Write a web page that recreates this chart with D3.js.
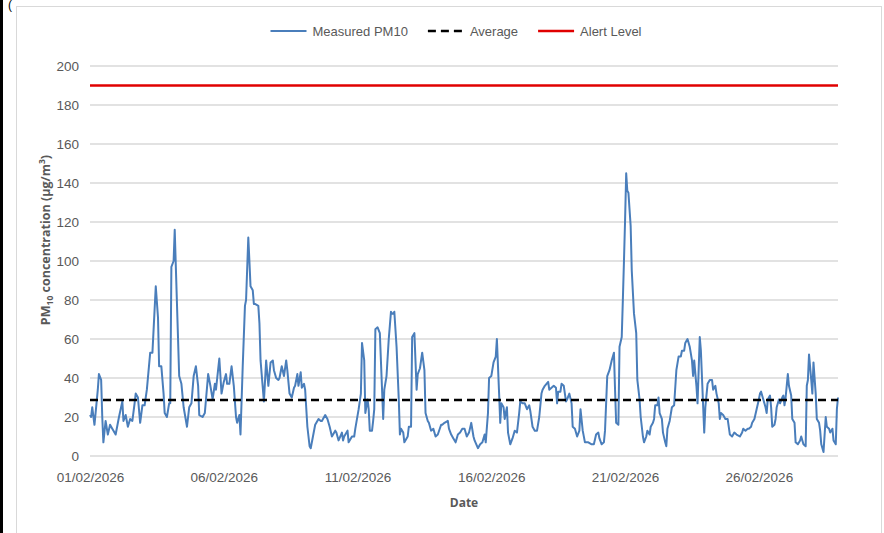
<!DOCTYPE html>
<html>
<head>
<meta charset="utf-8">
<script src="https://cdn.jsdelivr.net/npm/d3@7"></script>
<style>
  body { margin: 0; background: #fff; }
  svg { display: block; font-family: "Liberation Sans", Arial, sans-serif; }
  .tick-label { fill: #595959; font-size: 13.5px; }
  .legend-label { fill: #595959; font-size: 13px; }
  .axis-title { fill: #595959; font-weight: bold; font-family: "Open Sans", sans-serif; }
</style>
</head>
<body>
<div id="chart"></div>
<script>
// hours after 01/02/2026 00:00 and the PM10 reading at that hour (µg/m³)
const hoursFromStart = [
  0,1,2,4,7,8,10,11,12,14,16,18,20,23,26,29,30,32,34,36,38,40,41,43,45,47,49,51,54,56,
  59,61,62,64,66,67,69,71,72,73,75,76,77,80,82,84,87,89,91,93,95,97,98,101,103,106,108,110,112,113,
  116,118,120,122,123,125,127,129,131,132,133,134,135,137,139,140,142,143,144,146,147,148,151,152,153,154,156,158,160,162,
  164,165,167,169,170,172,174,176,177,179,181,183,184,186,187,189,190,192,193,195,197,198,200,202,205,207,208,211,213,215,
  217,220,221,223,226,227,228,231,232,235,237,238,241,243,244,246,247,249,250,251,253,254,255,256,258,260,262,263,264,266,
  268,270,271,272,273,275,277,278,279,281,282,285,286,288,289,291,293,294,296,298,300,301,303,304,306,308,310,312,315,316,
  318,321,322,324,326,328,330,332,334,336,338,340,342,344,345,348,350,352,354,355,357,358,360,362,364,365,367,368,369,371,
  372,374,375,377,379,381,383,385,386,388,390,392,394,395,397,399,401,403,405,406,408,411,412,414,416,418,419,420,422,423,
  425,427,428,430,432,433,435,437,439,440,442,444,445,447,450,452,454,456,457,459,461,462,464,466,468,470,471,472,474,475,
  477,478,479,480,481,482,483,485,486,488,490,491,493,494,496,497,499,500,502,503,505,506,507,509,510,511,513,514,516,517,
  518,520,522,524,526,528,530,531,533,534,536,538,540,541,542,544,545,547,548,551,552,554,556,558,559,561,562,564,565,566,
  568,570,572,574,576,578,580,583,585,586,588,590,591,593,594,596,598,600,601,602,604,606,607,608,610,611,612,614,615,616,
  618,619,621,622,623,624,626,627,629,630,632,633,635,637,638,640,642,643,644,645,647,648,649,651,652,654,655,656,658,660,
  661,663,664,666,667,669,670,671
]
const pm10Values = [
  21,20,25,16,34,42,39,20,7,18,11,16,14,11,20,28,18,21,15,19,18,27,32,30,17,26,26,34,53,53,
  87,71,46,46,32,22,20,27,27,97,100,116,97,41,37,25,15,25,27,41,46,36,21,20,22,42,36,29,37,34,
  50,32,38,42,37,37,46,36,20,17,19,21,11,46,77,80,112,100,87,85,78,78,77,68,49,42,28,49,36,48,
  49,44,40,39,40,46,41,49,44,32,30,35,36,42,36,43,35,37,34,15,5,4,10,16,19,18,18,21,19,15,
  10,13,12,8,12,8,10,13,7,10,10,14,24,32,58,49,22,29,24,13,13,18,24,65,66,63,34,19,34,41,
  60,74,73,73,74,56,29,11,14,12,7,10,15,15,61,63,34,42,45,53,44,22,18,17,13,14,10,11,16,16,
  17,18,14,11,9,7,11,12,14,14,10,12,17,10,8,4,6,7,11,7,22,40,41,48,51,60,32,17,27,25,
  19,25,12,6,9,13,12,22,28,27,27,24,26,23,15,13,13,20,32,34,36,38,34,35,36,35,27,33,33,37,
  36,28,29,32,27,15,14,10,13,24,13,7,7,7,6,6,11,12,9,6,7,13,41,44,49,53,34,17,16,56,
  61,80,100,121,145,136,135,118,95,73,63,39,29,20,10,7,10,13,11,15,17,19,26,26,30,22,19,12,7,5,
  14,18,25,26,44,51,51,54,54,58,60,56,49,41,49,36,27,61,54,12,25,37,39,39,34,36,32,27,19,22,
  21,19,19,11,10,12,11,10,12,14,13,14,14,15,17,19,24,29,32,33,29,25,22,29,31,25,15,16,19,25,
  29,27,30,31,26,30,42,36,31,19,17,7,6,8,10,6,5,36,39,52,39,32,48,32,19,17,13,6,2,20,
  15,14,12,14,8,6,24,30
]
const averageLevel = 28.7
const alertLevel = 190
const yTickValues = [0, 20, 40, 60, 80, 100, 120, 140, 160, 180, 200]
const legendLabels = ["Measured PM10", "Average", "Alert Level"]

// 1. Dimensions
const width = 884
const height = 533
const plot = { left: 90, right: 838, top: 66, bottom: 456 }

const startDate = new Date(2026, 1, 1)
const dataset = hoursFromStart.map((h, i) => ({
  date: d3.timeHour.offset(startDate, h),
  value: pm10Values[i],
}))

const svg = d3.select("#chart").append("svg")
    .attr("width", width)
    .attr("height", height)

// frame
svg.append("rect")
    .attr("x", 16.5).attr("y", 6.5)
    .attr("width", 865).attr("height", 540)
    .attr("fill", "none")
    .attr("stroke", "#d9d9d9")
svg.append("rect")
    .attr("x", 0).attr("y", 0)
    .attr("width", 3).attr("height", height)
    .attr("fill", "#000")
svg.append("text")
    .attr("x", 8).attr("y", 9)
    .attr("font-size", 12)
    .attr("fill", "#000")
    .text("(")

// 2. Scales
const xScale = d3.scaleTime()
    .domain(d3.extent(dataset, d => d.date))
    .range([plot.left, plot.right])

const yScale = d3.scaleLinear()
    .domain([0, 200])
    .range([plot.bottom, plot.top])

// 3. Grid and axes
const grid = svg.append("g")
grid.selectAll("line")
  .data(yTickValues)
  .enter().append("line")
    .attr("x1", plot.left)
    .attr("x2", plot.right)
    .attr("y1", d => yScale(d))
    .attr("y2", d => yScale(d))
    .attr("stroke", "#d9d9d9")
    .attr("stroke-width", 1.3)

const yAxis = svg.append("g")
    .attr("transform", `translate(${plot.left},0)`)
    .call(d3.axisLeft(yScale).tickValues(yTickValues).tickSize(0).tickPadding(11))
yAxis.select(".domain").remove()
yAxis.selectAll("text")
    .attr("class", "tick-label")
    .attr("font-family", null)
    .attr("font-size", null)

const xAxis = svg.append("g")
    .attr("transform", `translate(0,${plot.bottom})`)
    .call(d3.axisBottom(xScale)
      .ticks(d3.timeDay.every(5))
      .tickFormat(d3.timeFormat("%d/%m/%Y"))
      .tickSize(0)
      .tickPadding(16))
xAxis.select(".domain").remove()
xAxis.selectAll("text")
    .attr("class", "tick-label")
    .attr("font-family", null)
    .attr("font-size", null)

svg.append("text")
    .attr("class", "axis-title")
    .attr("x", 464)
    .attr("y", 507)
    .attr("text-anchor", "middle")
    .attr("font-size", 12)
    .text("Date")

const yTitle = svg.append("text")
    .attr("class", "axis-title")
    .attr("transform", `translate(50,240) rotate(-90)`)
    .attr("text-anchor", "middle")
    .attr("font-size", 12.5)
yTitle.append("tspan").text("PM")
yTitle.append("tspan").attr("dy", 3).attr("font-size", 8.5).text("10")
yTitle.append("tspan").attr("dy", -3).text(" concentration (µg/m")
yTitle.append("tspan").attr("dy", -5).attr("font-size", 8.5).text("3")
yTitle.append("tspan").attr("dy", 5).text(")")

// 4. Data
svg.append("line")
    .attr("x1", plot.left).attr("x2", plot.right)
    .attr("y1", yScale(alertLevel)).attr("y2", yScale(alertLevel))
    .attr("stroke", "#e00000")
    .attr("stroke-width", 2.5)

const lineGenerator = d3.line()
    .x(d => xScale(d.date))
    .y(d => yScale(d.value))

svg.append("path")
    .datum(dataset)
    .attr("d", lineGenerator)
    .attr("fill", "none")
    .attr("stroke", "#4a7ebb")
    .attr("stroke-width", 2)
    .attr("stroke-linejoin", "round")

svg.append("line")
    .attr("x1", plot.left).attr("x2", plot.right)
    .attr("y1", yScale(averageLevel)).attr("y2", yScale(averageLevel))
    .attr("stroke", "#000")
    .attr("stroke-width", 2.5)
    .attr("stroke-dasharray", "8,5")

// 5. Legend
const legendStyles = [
  { color: "#4a7ebb", dash: null, w: 2 },
  { color: "#000", dash: "8,5", w: 2.5 },
  { color: "#e00000", dash: null, w: 2.5 },
]
const legend = svg.append("g")
const legendItems = legend.selectAll("g")
  .data(legendLabels)
  .enter().append("g")
legendItems.append("line")
    .attr("x1", 0).attr("x2", 36)
    .attr("y1", 31).attr("y2", 31)
    .attr("stroke", (d, i) => legendStyles[i].color)
    .attr("stroke-width", (d, i) => legendStyles[i].w)
    .attr("stroke-dasharray", (d, i) => legendStyles[i].dash)
legendItems.append("text")
    .attr("class", "legend-label")
    .attr("x", 42)
    .attr("y", 35.5)
    .text(d => d)

let cursor = 0
legendItems.each(function () {
  const w = 42 + this.querySelector("text").getComputedTextLength()
  d3.select(this).attr("transform", `translate(${cursor},0)`)
  cursor += w + 20
})
const legendWidth = cursor - 20
legend.attr("transform", `translate(${456 - legendWidth / 2},0)`)
</script>
</body>
</html>
